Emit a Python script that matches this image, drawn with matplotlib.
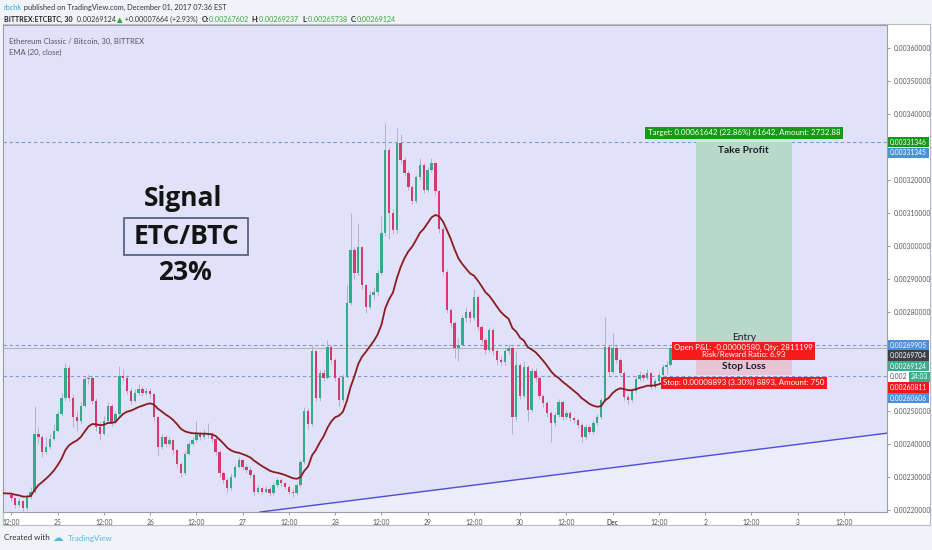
import matplotlib
matplotlib.use("Agg")
import matplotlib.pyplot as plt
import matplotlib.dates as mdates
from matplotlib.patches import Rectangle
import numpy as np
import pandas as pd

W, H, DPI = 932, 550, 100

# ---------------- data ----------------
PRICE_UNIT = 1e-6          # values below are in 1e-6 BTC
start_time = "2017-11-24 12:00"
bar_freq = "1h"
first_open = 2245
closes = [
    2235, 2215, 2225, 2205, 2240, 2255, 2430, 2420, 2375, 2390, 2415, 2440,
    2490, 2540, 2630, 2540, 2480, 2470, 2515, 2595, 2600, 2530, 2450, 2430,
    2470, 2515, 2465, 2490, 2605, 2600, 2560, 2530, 2555, 2565, 2555, 2560,
    2550, 2480, 2390, 2420, 2400, 2410, 2380, 2340, 2310, 2370, 2400, 2410,
    2430, 2420, 2430, 2425, 2415, 2375, 2310, 2290, 2265, 2300, 2330, 2350,
    2330, 2320, 2305, 2255, 2265, 2255, 2262, 2250, 2275, 2290, 2280, 2270,
    2255, 2250, 2275, 2345, 2500, 2460, 2680, 2540, 2614, 2600, 2693, 2654,
    2600, 2532, 2603, 2826, 2987, 2917, 2996, 2880, 2814, 2850, 2860, 2917,
    3039, 3290, 3100, 3048, 3311, 3260, 3220, 3178, 3135, 3208, 3245, 3169,
    3229, 3250, 3165, 3050, 2920, 2805, 2766, 2690, 2700, 2780, 2799, 2780,
    2845, 2754, 2714, 2684, 2745, 2680, 2654, 2648, 2680, 2690, 2480, 2638,
    2545, 2632, 2502, 2620, 2600, 2545, 2523, 2493, 2463, 2487, 2526, 2481,
    2493, 2478, 2472, 2457, 2420, 2451, 2436, 2463, 2481, 2532, 2693, 2617,
    2690, 2654, 2614, 2542, 2532, 2560, 2595, 2608, 2599, 2614, 2572, 2590,
    2608, 2632, 2640, 2691,
]
highs = [
    2255, 2240, 2235, 2230, 2248, 2270, 2515, 2450, 2425, 2420, 2430, 2460,
    2500, 2555, 2645, 2640, 2550, 2500, 2525, 2605, 2612, 2605, 2540, 2465,
    2485, 2525, 2520, 2500, 2635, 2625, 2605, 2570, 2565, 2580, 2575, 2570,
    2568, 2555, 2485, 2430, 2425, 2420, 2415, 2385, 2345, 2378, 2408, 2420,
    2470, 2440, 2445, 2462, 2435, 2420, 2380, 2318, 2295, 2310, 2340, 2360,
    2355, 2340, 2328, 2310, 2275, 2270, 2272, 2268, 2285, 2298, 2295, 2285,
    2275, 2262, 2282, 2352, 2510, 2508, 2700, 2685, 2622, 2625, 2715, 2698,
    2660, 2605, 2612, 2880, 3099, 2995, 3070, 3000, 2885, 2862, 2875, 2925,
    3090, 3372, 3300, 3110, 3357, 3340, 3268, 3228, 3185, 3215, 3265, 3250,
    3238, 3265, 3255, 3170, 3058, 2928, 2812, 2772, 2720, 2790, 2815, 2805,
    2870, 2850, 2760, 2720, 2755, 2750, 2688, 2665, 2690, 2702, 2695, 2680,
    2645, 2650, 2638, 2630, 2628, 2606, 2552, 2530, 2500, 2495, 2535, 2532,
    2502, 2500, 2485, 2478, 2462, 2460, 2458, 2472, 2490, 2540, 2784, 2700,
    2735, 2698, 2660, 2620, 2550, 2568, 2605, 2620, 2615, 2625, 2620, 2598,
    2616, 2642, 2650, 2693,
]
lows = [
    2225, 2205, 2208, 2195, 2200, 2232, 2250, 2400, 2360, 2370, 2385, 2410,
    2435, 2485, 2530, 2530, 2450, 2440, 2460, 2510, 2580, 2520, 2440, 2410,
    2425, 2465, 2455, 2460, 2485, 2590, 2550, 2520, 2525, 2548, 2545, 2548,
    2540, 2470, 2365, 2385, 2390, 2392, 2370, 2330, 2300, 2305, 2365, 2395,
    2405, 2410, 2415, 2418, 2405, 2365, 2300, 2280, 2255, 2260, 2295, 2325,
    2320, 2310, 2295, 2245, 2250, 2248, 2250, 2242, 2245, 2270, 2272, 2262,
    2248, 2240, 2245, 2270, 2340, 2445, 2455, 2530, 2530, 2590, 2595, 2645,
    2590, 2515, 2525, 2598, 2820, 2900, 2910, 2870, 2795, 2808, 2840, 2852,
    2910, 3030, 3020, 3035, 3040, 3250, 3210, 3168, 3125, 3128, 3200, 3160,
    3162, 3222, 3155, 3040, 2910, 2795, 2755, 2660, 2650, 2695, 2770, 2770,
    2775, 2745, 2705, 2672, 2678, 2670, 2642, 2638, 2640, 2672, 2430, 2470,
    2535, 2538, 2470, 2495, 2588, 2535, 2512, 2482, 2405, 2455, 2480, 2472,
    2475, 2470, 2462, 2448, 2405, 2415, 2428, 2430, 2458, 2475, 2525, 2608,
    2610, 2645, 2605, 2532, 2520, 2526, 2555, 2590, 2590, 2594, 2565, 2566,
    2585, 2602, 2610, 2635,
]
ema_length = 20            # EMA (20, close)
ema_seed = 2250            # EMA value at the left edge of the chart

# long-position tool
entry_price = 0.00269704
target_price = 0.00331346
stop_price = 0.00260811
pos_start, pos_end = "2017-12-01 21:36", "2017-12-02 22:30"
target_text = "Target: 0.00061642 (22.86%) 61642, Amount: 2732.88"
pnl_text = "Open P&L: -0.00000580, Qty: 2811199\nRisk/Reward Ratio: 6.93"
stop_text = "Stop: 0.00008893 (3.30%) 8893, Amount: 750"

# horizontal dashed lines and last price
hline_prices = [0.00331345, 0.00269905, 0.00260606]
last_price = 0.00269124

# trend line
trend_times = ["2017-11-27 04:30", "2017-12-03 23:12"]
trend_prices = [0.002193, 0.002432]

# axes
x_range = ["2017-11-24 09:49", "2017-12-03 23:12"]
y_range = [0.0021931, 0.0036688]
x_tick_start, x_tick_end = "2017-11-24 12:00", "2017-12-03 12:00"
x_tick_labels = ["12:00", "25", "12:00", "26", "12:00", "27", "12:00", "28",
                 "12:00", "29", "12:00", "30", "12:00", "Dec", "12:00", "2",
                 "12:00", "3", "12:00"]
y_ticks = [0.0022, 0.0023, 0.0024, 0.0025, 0.0028, 0.0029, 0.0030,
           0.0031, 0.0032, 0.0034, 0.0035, 0.0036]

# right-axis price tags: (price, text, background, text colour)
price_tags_top = [
    (0.00331346, "0.00331346", "#139b13", "white"),
    (0.00331345, "0.00331345", "#4a8fe0", "white"),
]
price_tags_low = [
    (0.00269905, "0.00269905", "#4a8fe0", "white"),
    (0.00269704, "0.00269704", "#3d3f48", "white"),
    (0.00269124, "0.00269124", "#3aae8c", "white"),
    (None, "24:03", "#3aae8c", "white"),
    (0.00260811, "0.00260811", "#f01818", "white"),
    (0.00260606, "0.00260606", "#4a8fe0", "white"),
]

header1 = [("rbchk", "#3fa9dc", "normal"),
           (" published on TradingView.com, December 01, 2017 07:36 EST", "#333333", "normal")]
header2 = [("BITTREX:ETCBTC, 30", "#222222", "bold"),
           ("  0.00269124 ", "#333333", "normal"),
           ("\u25B2", "#27a327", "normal"),
           (" +0.00007664 (+2.93%)  ", "#333333", "normal"),
           ("O:", "#222222", "bold"), ("0.00267602  ", "#3aa53a", "normal"),
           ("H:", "#222222", "bold"), ("0.00269237  ", "#3aa53a", "normal"),
           ("L:", "#222222", "bold"), ("0.00265738  ", "#3aa53a", "normal"),
           ("C:", "#222222", "bold"), ("0.00269124", "#3aa53a", "normal")]

# ---------------- figure ----------------
UI_FONT = ["Lato", "DejaVu Sans"]
AX_FS = 4.9
fig = plt.figure(figsize=(W / DPI, H / DPI), dpi=DPI, facecolor="#f0f3f7")

# white frame for chart + scales (behind the axes)
fig.patches.append(Rectangle((3 / W, 1 - 525 / H), 927 / W, 501 / H,
                             transform=fig.transFigure, fc="white",
                             ec="#b9bcc6", lw=0.8, zorder=-5))

ax = fig.add_axes([3 / W, 1 - 512 / H, 884 / W, 487 / H])
ax.set_zorder(1)
ax.set_facecolor("#e1e1f9")
for s in ax.spines.values():
    s.set_color("#9a9daa")
    s.set_linewidth(0.8)

t = pd.date_range(start_time, periods=len(closes), freq=bar_freq)
xt = mdates.date2num(t.to_pydatetime())
c = np.array(closes) * PRICE_UNIT
o = np.array([first_open] + closes[:-1]) * PRICE_UNIT
hi = np.array(highs) * PRICE_UNIT
lo = np.array(lows) * PRICE_UNIT
up = c >= o
UP_C, DN_C = "#35a98a", "#d9386c"
bar_w = (1 / 24) * 0.62

xl = mdates.date2num(pd.to_datetime(x_range).to_pydatetime())
ax.set_xlim(xl)
ax.set_ylim(y_range)

# trend line + lighter area below it
tt = mdates.date2num(pd.to_datetime(trend_times).to_pydatetime())
ax.fill_between(tt, trend_prices, y_range[0] - 0.001, color="#ececfb", zorder=0.5, lw=0)
ax.plot(tt, trend_prices, color="#4b4fd6", lw=1.0, zorder=3)

# dashed horizontal lines and last-price line
for p in hline_prices:
    ax.axhline(p, color="#8496cc", lw=0.8, ls=(0, (3, 2.5)), zorder=1)
ax.axhline(last_price, color="#a9b7b4", lw=0.7, zorder=1)

# position tool boxes
ps = mdates.date2num(pd.to_datetime([pos_start, pos_end]).to_pydatetime())
ax.fill_between(ps, entry_price, target_price, color="#b8d8c9", lw=0, zorder=1.5)
ax.fill_between(ps, stop_price, entry_price, color="#e7c4d3", lw=0, zorder=1.5)
pmid = ps.mean()

# candles
ax.vlines(xt, lo, hi, color="#aeb0cc", lw=0.7, zorder=2)
ax.bar(xt[up], (c - o)[up], bottom=o[up], width=bar_w, color=UP_C, lw=0, zorder=2.5)
ax.bar(xt[~up], (c - o)[~up], bottom=o[~up], width=bar_w, color=DN_C, lw=0, zorder=2.5)

# EMA (20, close)
ema = pd.Series([ema_seed] + closes).ewm(span=ema_length, adjust=False).mean().values[1:]
x_ema = np.concatenate([[xl[0]], xt])
y_ema = np.concatenate([[ema_seed], ema]) * PRICE_UNIT
ax.plot(x_ema, y_ema, color="#8c1b1f", lw=1.3, zorder=3)

# ticks
xticks = mdates.date2num(pd.date_range(x_tick_start, x_tick_end, freq="12h").to_pydatetime())
ax.set_xticks(xticks)
ax.set_xticklabels(x_tick_labels, fontsize=AX_FS, color="#555555", family=UI_FONT)
for lab in ax.get_xticklabels():
    if lab.get_text() == "Dec":
        lab.set_fontweight("bold")
ax.tick_params(axis="x", direction="out", length=2.5, width=0.6, color="#888888", pad=2.5)
ax.yaxis.tick_right()
ax.set_yticks(y_ticks)
ax.set_yticklabels(["%.8f" % v for v in y_ticks], fontsize=AX_FS, color="#555555", family=UI_FONT)
ax.tick_params(axis="y", direction="out", length=2.5, width=0.6, color="#888888", pad=2)

# price tags on the right scale
def tag(price, text, bg, fg, dy=0, ref=None, dx=3):
    yref = price if price is not None else ref
    ax.annotate(text, xy=(1.0, yref), xycoords=("axes fraction", "data"),
                xytext=(dx, dy), textcoords="offset pixels", ha="left", va="center",
                fontsize=AX_FS, color=fg, family=UI_FONT, annotation_clip=False,
                bbox=dict(boxstyle="square,pad=0.25", fc=bg, ec="none"), zorder=10)

tag(*price_tags_top[0], dy=0)
tag(*price_tags_top[1], dy=-10.5)
ref0 = price_tags_low[0][0]
for i, (p, txt, bg, fg) in enumerate(price_tags_low):
    # stacked tags, 10.6 px apart, starting at the first tag's price
    if txt == "24:03":
        ax.annotate("0.002", xy=(1.0, ref0), xycoords=("axes fraction", "data"),
                    xytext=(3, -10.6 * i), textcoords="offset pixels", ha="left",
                    va="center", fontsize=AX_FS, color="#555555", family=UI_FONT,
                    annotation_clip=False, zorder=10)
        tag(None, txt, bg, fg, dy=-10.6 * i, ref=ref0, dx=24)
    else:
        tag(None, txt, bg, fg, dy=-10.6 * i, ref=ref0)

# position tool texts
ax.annotate(target_text, xy=(pmid, target_price), xytext=(0, 9.5), textcoords="offset pixels",
            ha="center", va="center", fontsize=5.7, color="white", family=UI_FONT,
            bbox=dict(boxstyle="square,pad=0.3", fc="#139b13", ec="none"), zorder=9)
ax.annotate("Take Profit", xy=(pmid, target_price), xytext=(0, -8), textcoords="offset pixels",
            ha="center", va="center", fontsize=7.3, fontweight="bold", color="#1c1c2c",
            family=UI_FONT, zorder=9)
ax.annotate("Entry", xy=(pmid, entry_price), xytext=(0, 8), textcoords="offset pixels",
            ha="center", va="center", fontsize=7.3, color="#1c1c2c", family=UI_FONT, zorder=9)
ax.annotate(pnl_text, xy=(pmid, entry_price), xytext=(0, -5.5), textcoords="offset pixels",
            ha="center", va="center", fontsize=5.7, color="white", family=UI_FONT,
            linespacing=1.05, multialignment="center",
            bbox=dict(boxstyle="square,pad=0.25", fc="#f51c1c", ec="none"), zorder=9)
ax.annotate("Stop Loss", xy=(pmid, entry_price), xytext=(0, -20.5), textcoords="offset pixels",
            ha="center", va="center", fontsize=7.3, fontweight="bold", color="#1c1c2c",
            family=UI_FONT, zorder=9)
ax.annotate(stop_text, xy=(pmid, stop_price), xytext=(0, -7.5), textcoords="offset pixels",
            ha="center", va="center", fontsize=5.7, color="white", family=UI_FONT,
            bbox=dict(boxstyle="square,pad=0.3", fc="#f51c1c", ec="none"), zorder=9)

# legend texts
ax.text(6 / 884, (512 - 41) / 487, "Ethereum Classic / Bitcoin, 30, BITTREX", transform=ax.transAxes,
        fontsize=5.5, color="#555566", family=UI_FONT, va="center", ha="left")
ax.text(6 / 884, (512 - 52) / 487, "EMA (20, close)", transform=ax.transAxes,
        fontsize=5.5, color="#555566", family=UI_FONT, va="center", ha="left")

# signal annotation
SIG_FONT = ["Open Sans", "DejaVu Sans"]
ax.text(180 / 884, (512 - 198) / 487, "Signal", transform=ax.transAxes, ha="center", va="center",
        fontsize=19, fontweight="bold", color="#141414", family=SIG_FONT)
ax.add_patch(Rectangle((121 / 884, (512 - 255) / 487), 124 / 884, 37 / 487, transform=ax.transAxes,
                       fc="none", ec="#5b6282", lw=1.3, zorder=5))
ax.text(183 / 884, (512 - 237) / 487, "ETC/BTC", transform=ax.transAxes, ha="center", va="center",
        fontsize=19, fontweight="bold", color="#141414", family=SIG_FONT)
ax.text(182 / 884, (512 - 273) / 487, "23%", transform=ax.transAxes, ha="center", va="center",
        fontsize=19, fontweight="bold", color="#141414", family=SIG_FONT)

# header text runs
renderer = fig.canvas.get_renderer()
def runs(x_px, y_px, items, size):
    x = x_px
    for txt, col, wt in items:
        tx = fig.text(x / W, 1 - y_px / H, txt, color=col, fontweight=wt, fontsize=size,
                      family=UI_FONT, va="center", ha="left")
        x += tx.get_window_extent(renderer).width

runs(4, 7.5, header1, 5.35)
runs(4, 19.5, header2, 5.1)

fig.text(4 / W, 1 - 538 / H, "Created with", fontsize=5.8, color="#333333", family=UI_FONT,
         va="center", ha="left")
fig.text(52 / W, 1 - 537.5 / H, "\u2601", fontsize=7.5, color="#55b4e0", family=["DejaVu Sans"],
         va="center", ha="left")
fig.text(68 / W, 1 - 538 / H, "TradingView", fontsize=5.8, color="#5fb4e4", family=UI_FONT,
         va="center", ha="left")

fig.savefig("out.png", dpi=DPI, facecolor=fig.get_facecolor())
